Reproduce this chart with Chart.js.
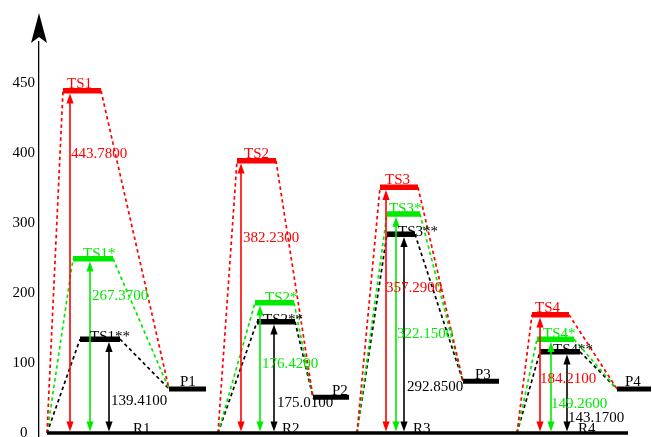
<!DOCTYPE html>
<html><head><meta charset="utf-8">
<script src="https://cdn.jsdelivr.net/npm/chart.js@4.4.0/dist/chart.umd.min.js"></script>
<style>html,body{margin:0;padding:0;background:#fff}#wrap{width:652px;height:437px;position:relative}</style>
</head><body><div id="wrap"><canvas id="c"></canvas></div>
<script>
// ---- data ----
const reactions = ['1', '2', '3', '4'];
const barrierTS   = [443.78, 382.23, 357.29, 184.21];   // red
const barrierTSa  = [267.37, 176.42, 322.15, 149.26];   // green (TS*)
const barrierTSb  = [139.41, 175.01, 292.85, 143.17];   // black (TS**)
// drawn level heights (the figure is not to scale)
const levelR   = [0, 0, 0, 0];
const levelTS  = [489, 389, 351, 169];
const levelTSa = [249, 186, 313, 134];
const levelTSb = [134, 159, 284, 116];
const levelP   = [63, 51, 74, 63];
const yTickValues = [0, 100, 200, 300, 400, 500];
const yTickLabels = ['0', '100', '200', '300', '400', '450'];

// ---- layout (reaction-coordinate positions) ----
const L = {
  rStart: [47, 218, 357, 517],
  rEnd:   [218, 357, 517, 628],
  ts:  [[63, 101], [237, 276], [380, 418], [532, 569]],
  tsA: [[73, 113], [255, 294], [387, 420], [537, 574]],
  tsB: [[80, 120], [257, 295], [387, 415], [540, 580]],
  p:   [[169, 206], [313, 349], [463, 499], [617, 651]],
  pLabelX: [180, 332, 475, 625],
  rLabelX: [133, 282, 413, 578]
};
const RED = '#ff0000', GREEN = '#00ea00', BLACK = '#000000';
const series = [
  { suffix: '',   level: levelTS,  barrier: barrierTS,  color: RED,   bars: L.ts,
    arrowX: [70, 241, 386, 540], nameX: [67, 244, 385, 535], nameDy: -3,
    valX: [71, 243, 386, 540], valY: [393, 273, 201, 71] },
  { suffix: '*',  level: levelTSa, barrier: barrierTSa, color: GREEN, bars: L.tsA,
    arrowX: [90, 260, 396, 551], nameX: [83, 265, 389, 543], nameDy: -1,
    valX: [92, 262, 397, 551], valY: [190, 93, 136, 36] },
  { suffix: '**', level: levelTSb, barrier: barrierTSb, color: BLACK, bars: L.tsB,
    arrowX: [109, 274, 404, 567], nameX: [90, 263, 398, 553], nameDy: 2,
    valX: [111, 277, 407, 568], valY: [40, 37, 60, 16] }
];

// ---- datasets ----
const datasets = [];
const base = { showLine: true, pointRadius: 0, fill: false, borderCapStyle: 'butt', tension: 0 };
reactions.forEach((r, g) => {
  datasets.push({ ...base, order: 0, borderColor: BLACK, borderWidth: 3.5,
    data: [{ x: L.rStart[g], y: levelR[g] }, { x: L.rEnd[g], y: levelR[g] }] });
  datasets.push({ ...base, order: 0, borderColor: BLACK, borderWidth: 5,
    data: [{ x: L.p[g][0], y: levelP[g] }, { x: L.p[g][1], y: levelP[g] }] });
  series.forEach(s => {
    datasets.push({ ...base, order: 0, borderColor: s.color, borderWidth: 5.5,
      data: [{ x: s.bars[g][0], y: s.level[g] }, { x: s.bars[g][1], y: s.level[g] }] });
    datasets.push({ ...base, order: 2, borderColor: s.color, borderWidth: 1.7, borderDash: [3.5, 3],
      data: [{ x: L.rStart[g], y: levelR[g] }, { x: s.bars[g][0], y: s.level[g] }] });
    datasets.push({ ...base, order: 2, borderColor: s.color, borderWidth: 1.7, borderDash: [3.5, 3],
      data: [{ x: s.bars[g][1], y: s.level[g] }, { x: L.p[g][0], y: levelP[g] }] });
  });
});

function doubleArrow(ctx, x, yTop, yBot, color) {
  const hl = 10, hw = 3.6;
  ctx.strokeStyle = color; ctx.fillStyle = color; ctx.lineWidth = 1.6;
  ctx.beginPath(); ctx.moveTo(x, yTop + hl - 1); ctx.lineTo(x, yBot - hl + 1); ctx.stroke();
  ctx.beginPath(); ctx.moveTo(x, yTop); ctx.lineTo(x - hw, yTop + hl); ctx.lineTo(x + hw, yTop + hl); ctx.closePath(); ctx.fill();
  ctx.beginPath(); ctx.moveTo(x, yBot); ctx.lineTo(x - hw, yBot - hl); ctx.lineTo(x + hw, yBot - hl); ctx.closePath(); ctx.fill();
}

const overlay = {
  id: 'overlay',
  afterDatasetsDraw(chart) {
    const { ctx, scales: { x, y }, chartArea } = chart;
    ctx.save();
    series.forEach(s => {
      reactions.forEach((r, g) => {
        const ax = x.getPixelForValue(s.arrowX[g]);
        const yTop = y.getPixelForValue(s.level[g]) + 2.75;
        const yBot = y.getPixelForValue(levelR[g]) - 1.5;
        doubleArrow(ctx, ax, yTop, yBot, s.color);
      });
    });
    ctx.font = '15px "Liberation Serif", "Times New Roman", serif';
    ctx.textBaseline = 'alphabetic';
    series.forEach(s => {
      reactions.forEach((r, g) => {
        ctx.fillStyle = s.color;
        ctx.textAlign = 'left';
        ctx.fillText('TS' + r + s.suffix, x.getPixelForValue(s.nameX[g]), y.getPixelForValue(s.level[g]) + s.nameDy);
        ctx.fillText(s.barrier[g].toFixed(4), x.getPixelForValue(s.valX[g]), y.getPixelForValue(s.valY[g]));
      });
    });
    ctx.fillStyle = BLACK;
    ctx.textAlign = 'left';
    reactions.forEach((r, g) => {
      ctx.fillText('P' + r, x.getPixelForValue(L.pLabelX[g]), y.getPixelForValue(levelP[g]) - 2.5);
      ctx.fillText('R' + r, x.getPixelForValue(L.rLabelX[g]), y.getPixelForValue(levelR[g]));
    });
    // axis arrow head
    const ax0 = y.right;
    const top = chartArea.top;
    ctx.fillStyle = BLACK;
    ctx.beginPath();
    ctx.moveTo(ax0, top - 29);
    ctx.lineTo(ax0 + 8, top + 1);
    ctx.lineTo(ax0, top - 5);
    ctx.lineTo(ax0 - 8, top + 1);
    ctx.closePath();
    ctx.fill();
    ctx.restore();
  }
};

new Chart(document.getElementById('c'), {
  type: 'line',
  data: { datasets },
  options: {
    responsive: true, maintainAspectRatio: false, animation: false,
    parsing: true,
    layout: { padding: { top: 42, right: 0, bottom: 0, left: 0 } },
    plugins: { legend: { display: false }, tooltip: { enabled: false } },
    scales: {
      x: { type: 'linear', min: 39, max: 652, display: false },
      y: {
        type: 'linear', min: -5.71, max: 558.6,
        afterBuildTicks(scale) { scale.ticks = yTickValues.map(v => ({ value: v })); },
        afterFit(scale) { scale.width = 39; scale.paddingTop = 0; scale.paddingBottom = 0; },
        grid: { display: false },
        border: { display: true, color: BLACK, width: 1.3 },
        ticks: {
          color: BLACK, padding: -4, crossAlign: 'center',
          font: { family: '"Liberation Serif", "Times New Roman", serif', size: 15 },
          callback: (v, i) => yTickLabels[i]
        }
      }
    }
  },
  plugins: [overlay]
});
</script>
</body></html>
